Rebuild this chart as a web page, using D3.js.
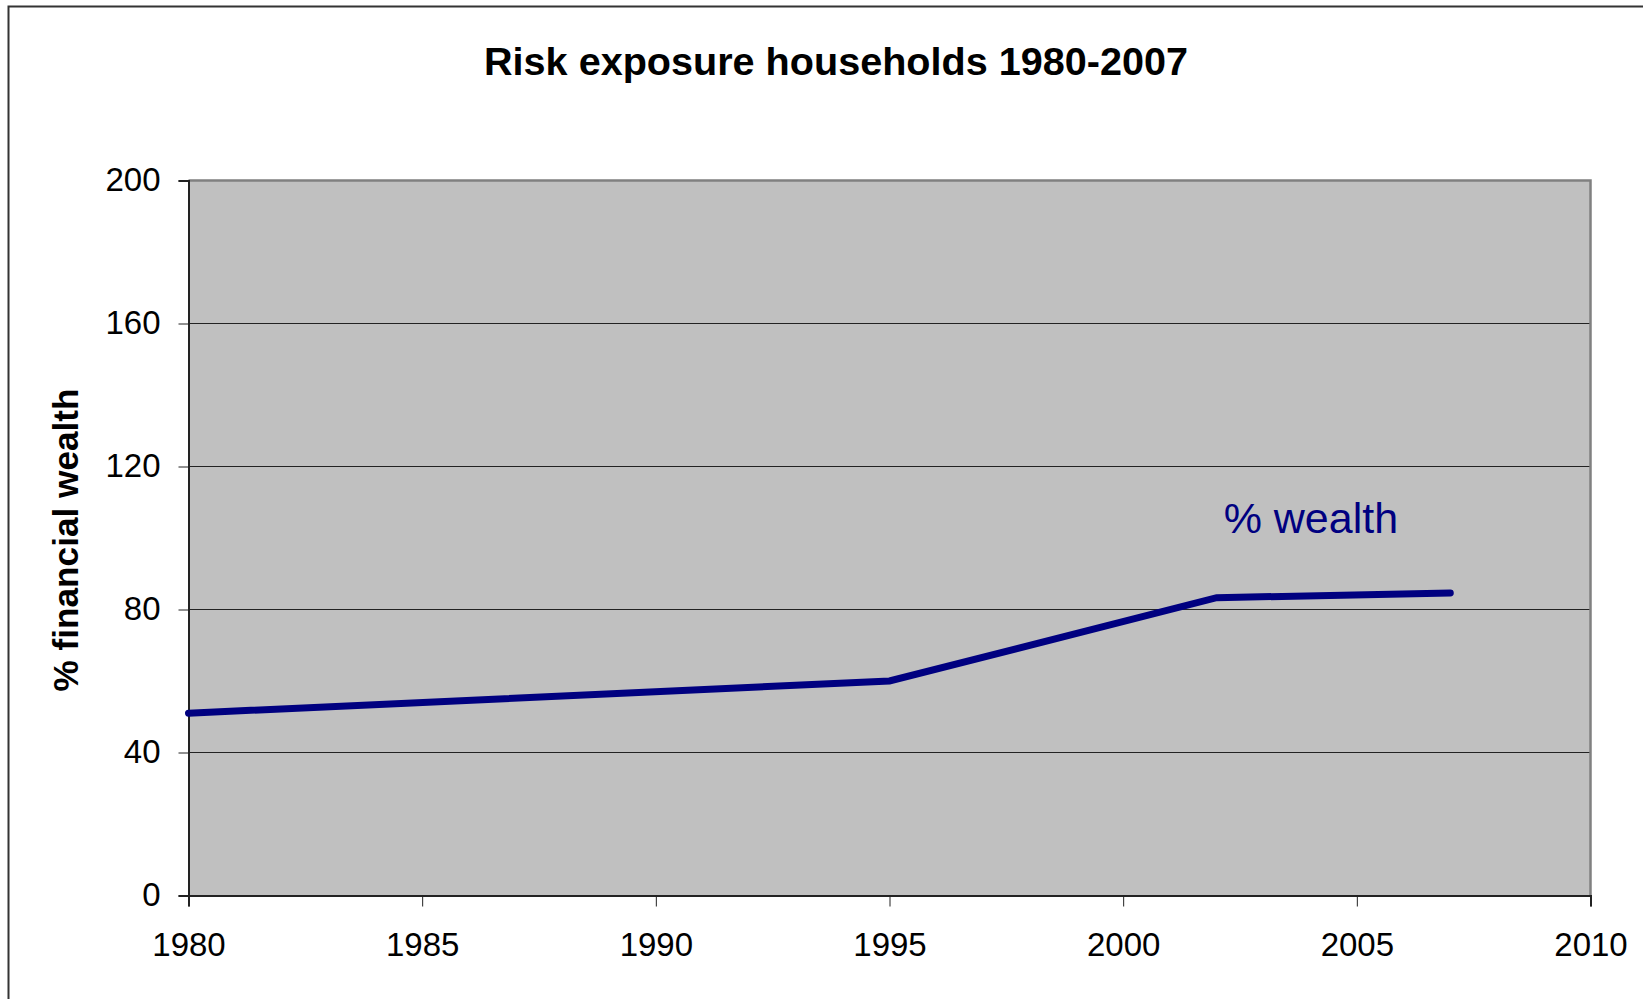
<!DOCTYPE html>
<html>
<head>
<meta charset="utf-8">
<script src="https://cdn.jsdelivr.net/npm/d3@7"></script>
<style>
  body { margin: 0; background: #fff; }
  svg { display: block; font-family: "Liberation Sans", Arial, sans-serif; }
</style>
</head>
<body>
<div id="chart-container"></div>
<script>
// Data
const years = [1980, 1995, 2002, 2007];
const wealthShare = [51, 60, 83.3, 84.6];
const yTicks = [0, 40, 80, 120, 160, 200];
const xTicks = [1980, 1985, 1990, 1995, 2000, 2005, 2010];
const title = "Risk exposure households 1980-2007";
const yLabel = "% financial wealth";
const seriesLabel = "% wealth";

const width = 1643;
const height = 999;
const margin = { top: 180.5, right: 52.5, bottom: 103.5, left: 188.5 };

const x = d3.scaleLinear()
    .domain([1980, 2010])
    .range([margin.left, width - margin.right]);

const y = d3.scaleLinear()
    .domain([0, 200])
    .range([height - margin.bottom, margin.top]);

const svg = d3.select("#chart-container").append("svg")
    .attr("width", width)
    .attr("height", height)
    .attr("viewBox", `0 0 ${width} ${height}`);

// outer frame (runs off the right and bottom of the picture)
svg.append("rect")
    .attr("x", 8.5).attr("y", 6.5)
    .attr("width", width + 20).attr("height", height + 20)
    .attr("fill", "#fff")
    .attr("stroke", "#333")
    .attr("stroke-width", 2);

// plot area
svg.append("rect")
    .attr("x", x(1980)).attr("y", y(200))
    .attr("width", x(2010) - x(1980))
    .attr("height", y(0) - y(200))
    .attr("fill", "#c0c0c0");

// gridlines
svg.append("g")
    .selectAll("line")
    .data(yTicks.filter(d => d > 0 && d < 200))
    .join("line")
    .attr("x1", x(1980)).attr("x2", x(2010))
    .attr("y1", d => y(d)).attr("y2", d => y(d))
    .attr("stroke", "#222")
    .attr("stroke-width", 1);

// top and right edges of the plot area
svg.append("path")
    .attr("d", `M${x(1980)},${y(200)}H${x(2010)}V${y(0)}`)
    .attr("fill", "none")
    .attr("stroke", "#808080")
    .attr("stroke-width", 2.5);

// axes
svg.append("g")
    .attr("transform", `translate(${x(1980)},0)`)
    .call(d3.axisLeft(y).tickValues(yTicks).tickSize(10).tickPadding(18))
    .call(g => g.select(".domain").attr("stroke", "#222").attr("stroke-width", 2))
    .call(g => g.selectAll(".tick line").attr("stroke", "#222"))
    .call(g => g.selectAll("text").attr("font-size", 33).attr("fill", "#000")
        .attr("font-family", "Liberation Sans, Arial, sans-serif").attr("dy", "0.3em"));

svg.append("g")
    .attr("transform", `translate(0,${y(0)})`)
    .call(d3.axisBottom(x).tickValues(xTicks).tickFormat(d3.format("d")).tickSize(11).tickPadding(26))
    .call(g => g.select(".domain").attr("stroke", "#222").attr("stroke-width", 2))
    .call(g => g.selectAll(".tick line").attr("stroke", "#222"))
    .call(g => g.selectAll("text").attr("font-size", 33).attr("fill", "#000")
        .attr("font-family", "Liberation Sans, Arial, sans-serif"));

// series line
const data = years.map((yr, i) => ({ year: yr, value: wealthShare[i] }));
const line = d3.line().x(d => x(d.year)).y(d => y(d.value));

svg.append("path")
    .datum(data)
    .attr("d", line)
    .attr("fill", "none")
    .attr("stroke", "#000080")
    .attr("stroke-width", 7)
    .attr("stroke-linecap", "round")
    .attr("stroke-linejoin", "miter");

// series label
svg.append("text")
    .attr("x", x(2002.15))
    .attr("y", y(101.3))
    .attr("font-size", 43)
    .attr("fill", "#000080")
    .text(seriesLabel);

// title
svg.append("text")
    .attr("x", 836)
    .attr("y", 75)
    .attr("text-anchor", "middle")
    .attr("font-size", 39.6)
    .attr("font-weight", "bold")
    .text(title);

// y axis label
svg.append("text")
    .attr("transform", `translate(78,${(y(0) + y(200)) / 2 + 2})rotate(-90)`)
    .attr("text-anchor", "middle")
    .attr("font-size", 35.2)
    .attr("font-weight", "bold")
    .text(yLabel);
</script>
</body>
</html>
